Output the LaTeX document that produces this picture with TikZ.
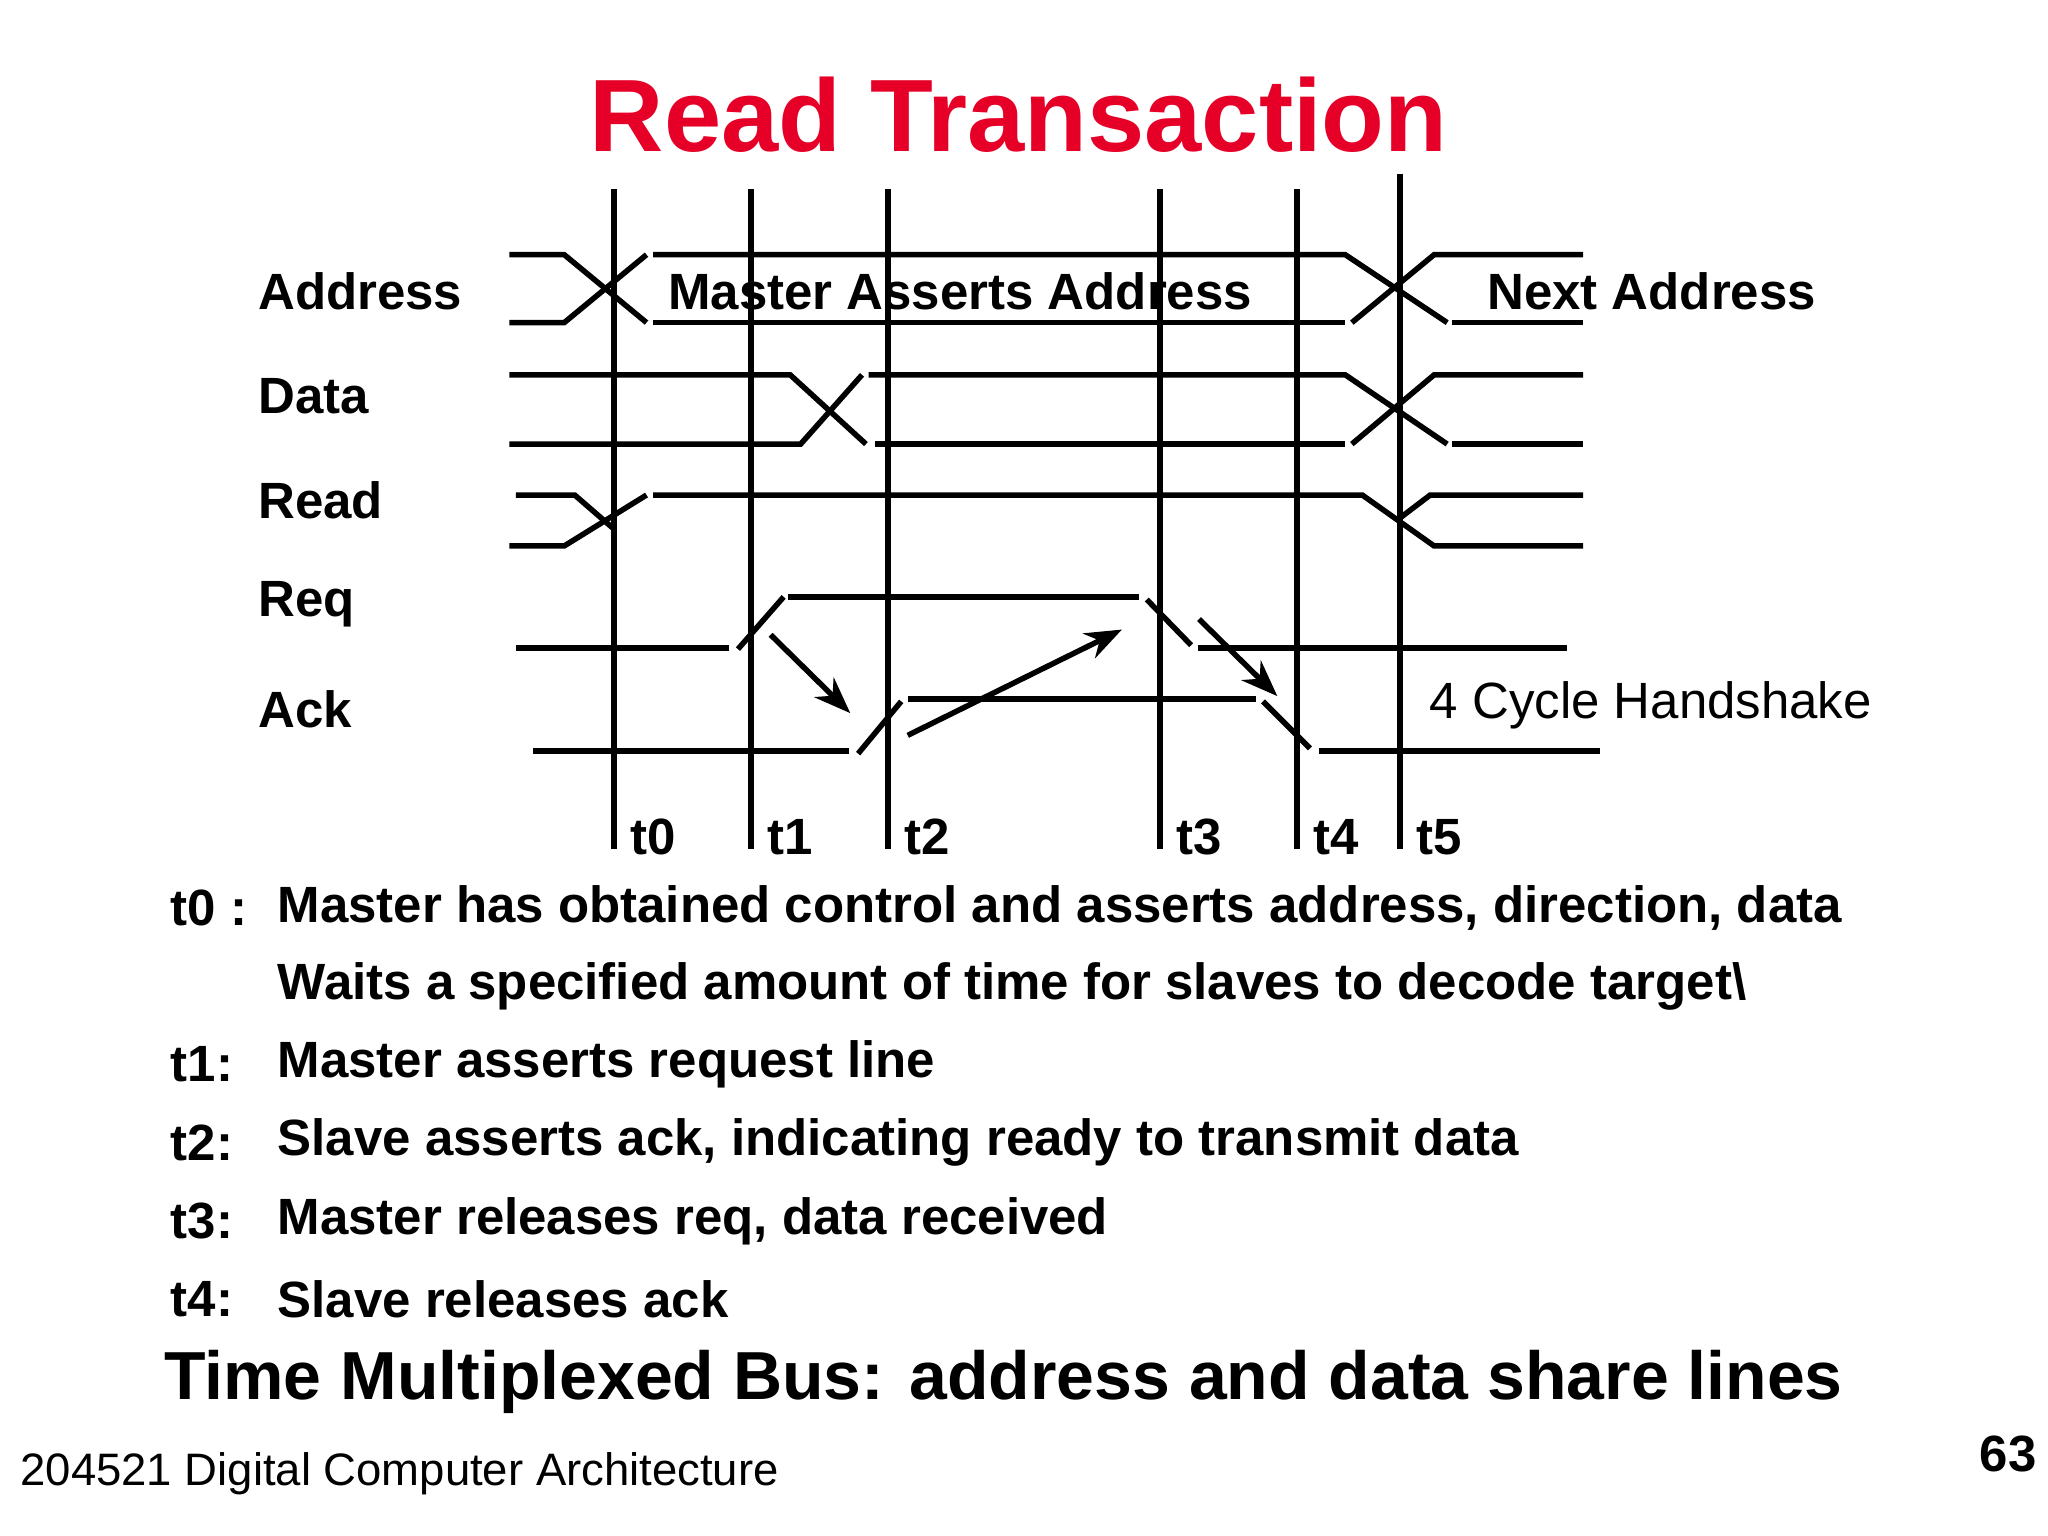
\documentclass[tikz,border=0pt]{standalone}
\usepackage{fontspec}
\setmainfont{Liberation Sans}
\usetikzlibrary{arrows.meta}
\definecolor{titlered}{RGB}{230,0,40}
\tikzset{
  sig/.style={line width=1.2pt},
  tick/.style={line width=1.2pt},
  lbl/.style={font=\fontsize{11.1}{13}\selectfont\bfseries, anchor=west, inner sep=0pt},
  txt/.style={font=\fontsize{11.1}{13}\selectfont\bfseries, anchor=west, inner sep=0pt},
  hand/.style={sig, -{Stealth[length=8pt,width=6pt]}}
}
\begin{document}
\begin{tikzpicture}[x=0.01cm,y=-0.01cm]
  \useasboundingbox (0,0) rectangle (1568,1176);
  % title
  \node[font=\fontsize{22.4}{26}\selectfont\bfseries, text=titlered] (title) at (780,88) {Read Transaction};
  % time lines
  \foreach \x/\t in {470/t0,575/t1,680/t2,888/t3,993/t4} {
    \draw[tick] (\x,145) -- (\x,650);
    \node[lbl] (\t) at (\x+12,641) {\t};
  }
  \draw[tick] (1072,133) -- (1072,650);
  \node[lbl] (t5) at (1084,641) {t5};
  % signal names
  \node[lbl] (address) at (197,223) {Address};
  \node[lbl] (data) at (197,303) {Data};
  \node[lbl] (read) at (197,383) {Read};
  \node[lbl] (req) at (197,463) {Req};
  \node[lbl] (ack) at (197,543) {Ack};
  % Address
  \draw[sig] (390,195) -- (432,195) -- (495,247);
  \draw[sig] (390,247) -- (432,247) -- (495,195);
  \draw[sig] (500,195) -- (1030,195) -- (1108,247);
  \draw[sig] (500,247) -- (1030,247);
  \draw[sig] (1035,247) -- (1098,195) -- (1212,195);
  \draw[sig] (1112,247) -- (1212,247);
  \node[lbl] (masteraddr) at (511,223) {Master Asserts Address};
  \node[lbl] (nextaddr) at (1138,223) {Next Address};
  % Data
  \draw[sig] (390,287) -- (605,287) -- (663,340);
  \draw[sig] (390,340) -- (613,340) -- (660,287);
  \draw[sig] (665,287) -- (1030,287) -- (1108,340);
  \draw[sig] (670,340) -- (1030,340);
  \draw[sig] (1035,340) -- (1098,287) -- (1212,287);
  \draw[sig] (1112,340) -- (1212,340);
  % Read
  \draw[sig] (395,379) -- (440,379) -- (470,405);
  \draw[sig] (390,418) -- (432,418) -- (495,379);
  \draw[sig] (500,379) -- (1043,379) -- (1098,418) -- (1212,418);
  \draw[sig] (1070,398) -- (1095,379) -- (1212,379);
  % Req
  \draw[sig] (395,496) -- (558,496);
  \draw[sig] (565,497) -- (600,457);
  \draw[sig] (603,457) -- (872,457);
  \draw[sig] (878,459) -- (912,494);
  \draw[sig] (917,496) -- (1200,496);
  % Ack
  \draw[sig] (408,575) -- (650,575);
  \draw[sig] (657,577) -- (690,537);
  \draw[sig] (695,535) -- (962,535);
  \draw[sig] (967,537) -- (1003,573);
  \draw[sig] (1010,575) -- (1225,575);
  % handshake arrows
  \coordinate (h1a) at (590,486); \coordinate (h1b) at (651,546);
  \coordinate (h2a) at (695,563); \coordinate (h2b) at (859,482);
  \coordinate (h3a) at (918,474); \coordinate (h3b) at (978,533);
  \draw[hand] (h1a) -- (h1b);
  \draw[hand] (h2a) -- (h2b);
  \draw[hand] (h3a) -- (h3b);
  \node[lbl, font=\fontsize{11.1}{13}\selectfont] (cycle) at (1094,540) {4 Cycle Handshake};
  % notes
  \node[txt] (n0) at (130,695) {t0 :};
  \node[txt] (n0a) at (212,695) {Master has obtained control and asserts address, direction, data};
  \node[txt] (n0b) at (212,755) {Waits a specified amount of time for slaves to decode target\textbackslash};
  \node[txt] (n1) at (130,815) {t1:};
  \node[txt] (n1a) at (212,815) {Master asserts request line};
  \node[txt] (n2) at (130,875) {t2:};
  \node[txt] (n2a) at (212,875) {Slave asserts ack, indicating ready to transmit data};
  \node[txt] (n3) at (130,935) {t3:};
  \node[txt] (n3a) at (212,935) {Master releases req, data received};
  \node[txt] (n4) at (130,995) {t4:};
  \node[txt] (n4a) at (212,995) {Slave releases ack};
  \node[txt, font=\fontsize{14.8}{17}\selectfont\bfseries] (bottom) at (125,1058) {Time Multiplexed Bus: address and data share lines};
  \node[txt, font=\fontsize{9.9}{12}\selectfont] (footer) at (15,1128) {204521 Digital Computer Architecture};
  \node[txt] (page) at (1515,1113) {63};
\end{tikzpicture}
\end{document}
